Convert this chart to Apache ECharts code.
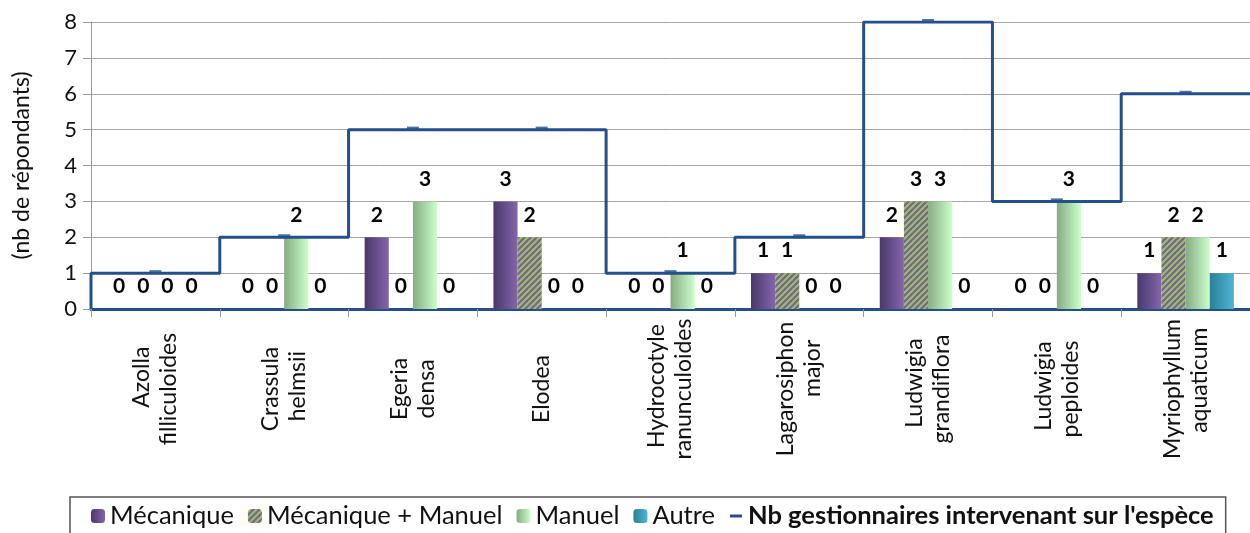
<!DOCTYPE html>
<html>
<head>
<meta charset="utf-8">
<script src="https://cdn.jsdelivr.net/npm/echarts@6/dist/echarts.min.js"></script>
<style>
  html, body { margin: 0; padding: 0; background: #fff; }
  #chart { width: 1250px; height: 533px; }
</style>
</head>
<body>
<div id="chart"></div>
<script>
const species = [
  'Azolla\nfilliculoides', 'Crassula\nhelmsii', 'Egeria\ndensa', 'Elodea',
  'Hydrocotyle\nranunculoides', 'Lagarosiphon\nmajor', 'Ludwigia\ngrandiflora',
  'Ludwigia\npeploides', 'Myriophyllum\naquaticum'
];
const mecanique = [0, 0, 2, 3, 0, 1, 2, 0, 1];
const mecaManuel = [0, 0, 0, 2, 0, 1, 3, 0, 2];
const manuel = [0, 2, 3, 0, 1, 0, 3, 3, 2];
const autre = [0, 0, 0, 0, 0, 0, 0, 0, 1];
const gestionnaires = [1, 2, 5, 5, 1, 2, 8, 3, 6];
const yTicks = [0, 1, 2, 3, 4, 5, 6, 7, 8];

const FONT = 'Lato';
const BLUE = '#23508A';
const X_FONT_SIZE = 23;

// hachures violet / vert pour "Mécanique + Manuel"
const hatch = document.createElement('canvas');
hatch.width = 6; hatch.height = 6;
const hctx = hatch.getContext('2d');
hctx.fillStyle = '#98C64E';
hctx.fillRect(0, 0, 6, 6);
hctx.strokeStyle = '#7C5CAC';
hctx.lineWidth = 2.2;
for (const c of [0, 6, 12]) {
  hctx.beginPath();
  hctx.moveTo(c + 1, -1);
  hctx.lineTo(-1, c + 1);
  hctx.stroke();
}

// centrer les lignes des étiquettes tournées (espaces en tête)
const mctx = document.createElement('canvas').getContext('2d');
mctx.font = X_FONT_SIZE + 'px ' + FONT;
const centerLines = (label) => {
  const lines = label.split('\n');
  const widths = lines.map(s => mctx.measureText(s).width);
  const maxW = Math.max(...widths);
  const sp = mctx.measureText(' ').width;
  return lines.map((s, i) => ' '.repeat(Math.round((maxW - widths[i]) / 2 / sp)) + s).join('\n');
};

const grad = (a, b) => ({
  type: 'linear', x: 0, y: 0, x2: 1, y2: 0,
  colorStops: [{ offset: 0, color: a }, { offset: 1, color: b }]
});

// ligne en escalier sur toute la largeur de chaque catégorie
const stepData = [[0, 0]];
gestionnaires.forEach((v, i) => stepData.push([i, v]));
stepData.push([species.length, gestionnaires[gestionnaires.length - 1]]);

const barLabel = {
  show: true, position: 'top', distance: 12,
  fontFamily: FONT, fontWeight: 'bold', fontSize: 21, color: '#000'
};

const bar = (name, data, color) => ({
  name, type: 'bar', data,
  barGap: '0%', barCategoryGap: '25%',
  itemStyle: { color },
  label: barLabel,
  z: 2
});

const LINE_NAME = 'Nb gestionnaires intervenant sur l\'espèce';

const chart = echarts.init(document.getElementById('chart'), null, { renderer: 'canvas' });
chart.setOption({
  animation: false,
  backgroundColor: '#fff',
  textStyle: { fontFamily: FONT },
  grid: { left: 91, right: 0, top: 22, bottom: 224, containLabel: false },
  legend: {
    left: 70, top: 497,
    padding: [6, 12, 14, 21],
    itemGap: 14,
    itemWidth: 14, itemHeight: 14,
    borderColor: '#555', borderWidth: 1.5,
    textStyle: { fontFamily: FONT, fontSize: 25.5, color: '#111' },
    data: [
      'Mécanique', 'Mécanique + Manuel', 'Manuel', 'Autre',
      {
        name: LINE_NAME,
        icon: 'path://M0,0h0.01v0.01h-0.01z M13.99,13.99h0.01v0.01h-0.01z M1,5.5h12v3h-12z',
        textStyle: { fontWeight: 'bold' }
      }
    ]
  },
  xAxis: [
    {
      type: 'category', data: species, boundaryGap: true,
      axisLine: { lineStyle: { color: BLUE, width: 3 } },
      axisTick: { show: true, length: 8, interval: 0, lineStyle: { color: '#999' } },
      axisLabel: {
        interval: 0, rotate: 90, align: 'center', verticalAlign: 'middle',
        margin: 80, color: '#111',
        fontFamily: FONT, fontSize: X_FONT_SIZE, lineHeight: 27,
        formatter: centerLines
      }
    },
    { type: 'value', min: 0, max: species.length, show: false }
  ],
  yAxis: {
    type: 'value', min: yTicks[0], max: yTicks[yTicks.length - 1], interval: 1,
    name: '(nb de répondants)', nameLocation: 'middle', nameRotate: 90, nameGap: 58,
    nameTextStyle: { fontFamily: FONT, fontSize: 23, color: '#111' },
    axisLine: { show: true, lineStyle: { color: '#999' } },
    axisTick: { show: true, length: 8, lineStyle: { color: '#999' } },
    axisLabel: { fontFamily: FONT, fontSize: 22, color: '#111', margin: 14 },
    splitLine: { lineStyle: { color: '#A6A6A6' } }
  },
  series: [
    bar('Mécanique', mecanique, grad('#4B376C', '#8466AA')),
    bar('Mécanique + Manuel', mecaManuel, { image: hatch, repeat: 'repeat' }),
    bar('Manuel', manuel, grad('#86AC83', '#CCFFCC')),
    bar('Autre', autre, grad('#2A7F98', '#4FB6D3')),
    {
      name: LINE_NAME, type: 'line',
      xAxisIndex: 1, data: stepData, step: 'end',
      symbol: 'none', lineStyle: { color: BLUE, width: 3 },
      itemStyle: { color: BLUE }, z: 5
    },
    {
      name: 'marqueurs', type: 'scatter', data: gestionnaires,
      symbol: 'rect', symbolSize: [12, 4], symbolOffset: [0, -1],
      itemStyle: { color: BLUE }, z: 6
    }
  ]
});
</script>
</body>
</html>
